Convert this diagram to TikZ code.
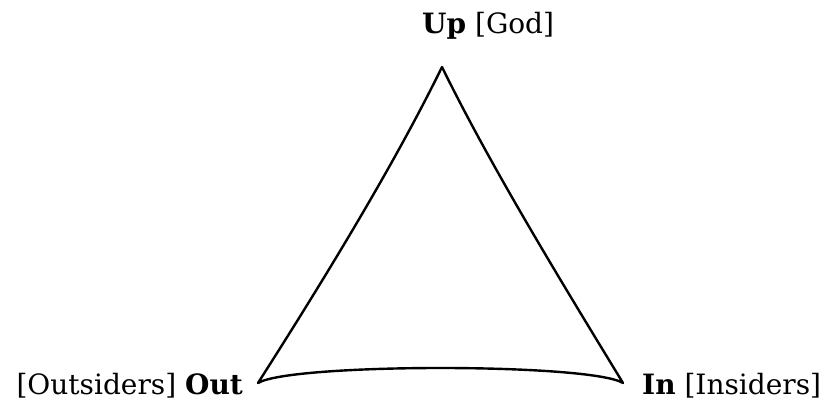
\documentclass[tikz,border=0pt]{standalone}
\usepackage{fontspec}
\setmainfont{DejaVu Serif}
\begin{document}
\begin{tikzpicture}[x=1pt,y=-1pt,
  lbl/.style={inner sep=0pt,font=\fontsize{28}{33}\selectfont},
  edge/.style={line width=2.4pt,line join=round,line cap=round}]
\useasboundingbox (0,0) rectangle (825,403);
\coordinate (T) at (442,67);
\coordinate (L) at (258,383);
\coordinate (R) at (623,383);
\node[lbl,anchor=base west] (up) at (422,34) {\textbf{Up} [God]};
\node[lbl,anchor=base east] (out) at (243,395) {[Outsiders] \textbf{Out}};
\node[lbl,anchor=base west] (in) at (642,395) {\textbf{In} [Insiders]};
\draw[edge] (L) .. controls (325,278) and (394,165) .. (T)
  .. controls (490,165) and (559,278) .. (R)
  .. controls (590,363) and (291,363) .. (L) -- cycle;
\end{tikzpicture}
\end{document}
